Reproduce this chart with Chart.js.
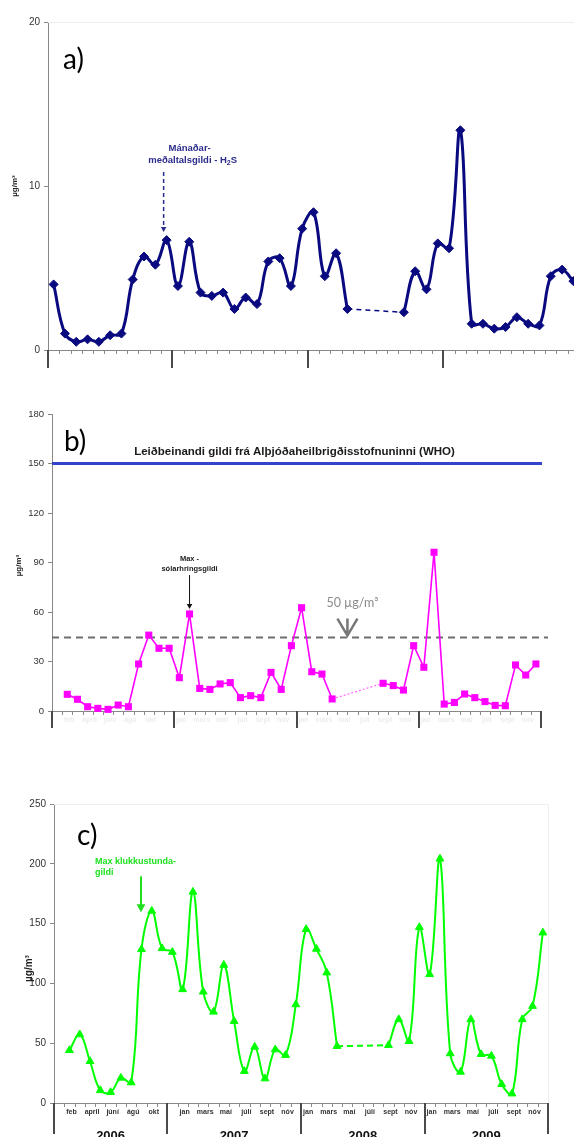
<!DOCTYPE html>
<html>
<head>
<meta charset="utf-8">
<script src="https://cdn.jsdelivr.net/npm/chart.js@4.4.1/dist/chart.umd.min.js"></script>
<style>
  html, body { margin: 0; padding: 0; overflow: hidden; background: #fff; }
  canvas { position: absolute; left: 0; }
  #chartA { top: 0; }
  #chartB { top: 380px; }
  #chartC { top: 760px; }
</style>
</head>
<body>
<canvas id="chartA" width="600" height="380"></canvas>
<canvas id="chartB" width="574" height="360"></canvas>
<canvas id="chartC" width="574" height="400"></canvas>
<script>
var years = ['2006', '2007', '2008', '2009'];
var months = ['jan', 'feb', 'mars', 'apríl', 'maí', 'júní', 'júlí', 'ágú', 'sept', 'okt', 'nóv', 'des'];

// month labels shown under the bottom chart (every other month, restarts each year)
var monthTicks = [
  '', 'feb', '', 'april', '', 'júní', '', 'ágú', '', 'okt', '', '',
  'jan', '', 'mars', '', 'maí', '', 'júlí', '', 'sept', '', 'nóv', '',
  'jan', '', 'mars', '', 'maí', '', 'júlí', '', 'sept', '', 'nóv', '',
  'jan', '', 'mars', '', 'maí', '', 'júlí', '', 'sept', '', 'nóv', ''
];

// a) monthly mean H2S, µg/m3
var monthlyMean = [null,
  4.0, 1.0, 0.5, 0.65, 0.5, 0.9, 1.0, 4.3, 5.7, 5.2, 6.7,
  3.9, 6.6, 3.5, 3.3, 3.5, 2.5, 3.2, 2.8, 5.4, 5.6, 3.9, 7.4,
  8.4, 4.5, 5.9, 2.5, null, null, null, null, 2.3, 4.8, 3.7, 6.5,
  6.2, 13.4, 1.6, 1.6, 1.3, 1.4, 2.0, 1.6, 1.5, 4.5, 4.9, 4.2];

// b) max daily value
var dailyMax = [null,
  10.1, 7.1, 2.6, 1.6, 1.0, 3.6, 2.6, 28.5, 46, 38, 38,
  20.2, 58.8, 13.7, 13.1, 16.4, 17.2, 8.1, 9.3, 8.1, 23.4, 13.1, 39.6,
  62.6, 23.8, 22.4, 7.3, null, null, null, null, 16.8, 15.4, 12.7, 39.6,
  26.5, 96.2, 4.2, 5.2, 10.3, 8.1, 5.7, 3.4, 3.2, 27.9, 21.8, 28.5];

// c) max hourly value
var hourlyMax = [null,
  44.1, 57.3, 34.9, 10.6, 9.0, 21, 17.1, 128.5, 160.6, 129.3, 126.2,
  95, 176.5, 93, 76.2, 115.4, 68.4, 26.6, 46.9, 20.4, 44.7, 40, 82.4,
  145.3, 128.8, 109, 47.5, null, null, null, null, 48.3, 69.9, 51.7, 147,
  107.6, 204.2, 41.4, 26, 69.9, 40.8, 39.4, 15.7, 7.8, 69.9, 81, 142.4];

var whoGuide = 150;
var limitLine = 44.5;

// category boundaries where the long year ticks sit
var sepsA = [1, 12, 24, 36, 48];
var sepsB = [0, 12, 24, 36, 48];
var sepsC = [0, 11, 24, 36, 48];

var categories = [];
years.forEach(function (y) { months.forEach(function (m) { categories.push(m + ' ' + y); }); });

var FONT = '"Liberation Sans", Arial, sans-serif';

function notNull(v) { return v !== null; }

// keeps only the two values on each side of a missing stretch, for the dashed link
function bridge(values) {
  return values.map(function (v, i) {
    if (v === null) return null;
    var before = i > 0 && values[i - 1] === null && values.slice(0, i - 1).some(notNull);
    var after = i < values.length - 1 && values[i + 1] === null && values.slice(i + 2).some(notNull);
    return before || after ? v : null;
  });
}

function yAxis(max, step, width, size) {
  return {
    min: 0, max: max,
    ticks: { stepSize: step, color: '#333', padding: 4, font: { family: FONT, size: size } },
    grid: { drawOnChartArea: false, drawTicks: true, tickLength: 4, color: '#888' },
    border: { color: '#888' },
    afterFit: function (s) { s.width = width; }
  };
}

function xAxis(min, height, showLabels, color) {
  return {
    type: 'category', offset: true, min: min,
    grid: { display: false, drawTicks: false },
    border: { color: '#888' },
    ticks: {
      display: showLabels, autoSkip: false, maxRotation: 0, minRotation: 0, padding: 5, labelOffset: 2,
      color: color, font: { family: FONT, size: 7, weight: 'bold' },
      callback: function (v) { return monthTicks[v]; }
    },
    afterFit: function (s) { s.height = height; }
  };
}

function linkSet(values, color, width, dash) {
  return {
    data: bridge(values),
    borderColor: color,
    borderWidth: width,
    borderDash: dash,
    tension: 0,
    spanGaps: true,
    pointRadius: 0,
    clip: false
  };
}

function bx(xs, k) { return xs.getPixelForValue(k - 0.5); }

function drawAxisTicks(chart, seps, sepLen) {
  var ctx = chart.ctx, xs = chart.scales.x, b = chart.chartArea.bottom;
  ctx.save();
  ctx.strokeStyle = '#8a8a8a';
  ctx.lineWidth = 1;
  ctx.beginPath();
  for (var k = xs.min; k <= xs.max + 1; k++) {
    var px = Math.round(bx(xs, k)) + 0.5;
    ctx.moveTo(px, b);
    ctx.lineTo(px, b + 4);
  }
  ctx.stroke();
  ctx.strokeStyle = '#4a4a4a';
  ctx.lineWidth = 2;
  ctx.beginPath();
  seps.forEach(function (k) {
    if (k < xs.min || k > xs.max + 1) return;
    var px = Math.round(bx(xs, k));
    ctx.moveTo(px, b);
    ctx.lineTo(px, b + sepLen);
  });
  ctx.stroke();
  ctx.restore();
}

function faintFrame(chart) {
  var ctx = chart.ctx, a = chart.chartArea;
  ctx.save();
  ctx.strokeStyle = '#eeeeee';
  ctx.lineWidth = 1;
  ctx.beginPath();
  ctx.moveTo(a.left, Math.round(a.top) + 0.5);
  ctx.lineTo(Math.round(a.right) + 0.5, Math.round(a.top) + 0.5);
  ctx.lineTo(Math.round(a.right) + 0.5, a.bottom);
  ctx.stroke();
  ctx.restore();
}

function yTitle(ctx, x, y, size) {
  ctx.save();
  ctx.translate(x, y);
  ctx.rotate(-Math.PI / 2);
  ctx.fillStyle = '#222';
  ctx.font = 'bold ' + size + 'px ' + FONT;
  ctx.textAlign = 'center';
  ctx.textBaseline = 'middle';
  ctx.fillText('µg/m³', 0, 0);
  ctx.restore();
}

function panelLetter(ctx, txt, x, y) {
  ctx.save();
  ctx.fillStyle = '#000';
  ctx.font = '28px Lato, "Open Sans", sans-serif';
  ctx.textAlign = 'left';
  ctx.textBaseline = 'alphabetic';
  ctx.fillText(txt, x, y);
  ctx.restore();
}

function arrowDown(ctx, x, y0, y1, color, width, dash, head) {
  ctx.save();
  ctx.strokeStyle = color;
  ctx.fillStyle = color;
  ctx.lineWidth = width;
  ctx.setLineDash(dash);
  ctx.beginPath();
  ctx.moveTo(x, y0);
  ctx.lineTo(x, y1 - head + 1);
  ctx.stroke();
  ctx.setLineDash([]);
  ctx.beginPath();
  ctx.moveTo(x - head * 0.55, y1 - head);
  ctx.lineTo(x + head * 0.55, y1 - head);
  ctx.lineTo(x, y1);
  ctx.closePath();
  ctx.fill();
  ctx.restore();
}

// ---------- a) ----------
new Chart(document.getElementById('chartA'), {
  type: 'line',
  data: {
    labels: categories,
    datasets: [{
      data: monthlyMean,
      borderColor: '#0a0a80',
      backgroundColor: '#0a0a80',
      borderWidth: 3,
      tension: 0.4,
      spanGaps: false,
      clip: false,
      pointStyle: 'rectRot',
      pointRadius: 4.5,
      pointBorderWidth: 1
    }, linkSet(monthlyMean, '#0a0a80', 1.5, [5, 4])]
  },
  options: {
    responsive: false, animation: false, devicePixelRatio: 1,
    layout: { padding: { top: 22, right: 21, left: 0, bottom: 0 } },
    plugins: { legend: { display: false }, tooltip: { enabled: false } },
    scales: { x: xAxis(1, 30, false, '#fff'), y: yAxis(20, 10, 48, 10) }
  },
  plugins: [{
    id: 'decorA',
    beforeDatasetsDraw: function (chart) { faintFrame(chart); },
    afterDraw: function (chart) {
      var ctx = chart.ctx, xs = chart.scales.x, ys = chart.scales.y;
      drawAxisTicks(chart, sepsA, 18);
      yTitle(ctx, 15, (chart.chartArea.top + chart.chartArea.bottom) / 2, 8);
      panelLetter(ctx, 'a)', 63, 69);

      var px = xs.getPixelForValue(11) - 3, py = ys.getPixelForValue(monthlyMean[11]);
      var col = '#2b2b8c';
      arrowDown(ctx, px, py - 68, py - 8, col, 1.5, [4, 3], 5);
      var cx = px + 29;
      ctx.save();
      ctx.fillStyle = col;
      ctx.textBaseline = 'alphabetic';
      ctx.font = 'bold 9.5px ' + FONT;
      ctx.textAlign = 'center';
      ctx.fillText('Mánaðar-', cx - 3, py - 89);
      var main = 'meðaltalsgildi - H', tail = 'S';
      var w1 = ctx.measureText(main).width, w3 = ctx.measureText(tail).width;
      ctx.font = 'bold 7px ' + FONT;
      var w2 = ctx.measureText('2').width;
      var x0 = cx - (w1 + w2 + w3) / 2, yb = py - 77;
      ctx.textAlign = 'left';
      ctx.font = 'bold 9.5px ' + FONT;
      ctx.fillText(main, x0, yb);
      ctx.fillText(tail, x0 + w1 + w2, yb);
      ctx.font = 'bold 7px ' + FONT;
      ctx.fillText('2', x0 + w1, yb + 2);
      ctx.restore();
    }
  }]
});

// ---------- b) ----------
new Chart(document.getElementById('chartB'), {
  type: 'line',
  data: {
    labels: categories,
    datasets: [{
      data: dailyMax,
      borderColor: '#ff00ff',
      backgroundColor: '#ff00ff',
      borderWidth: 1.6,
      tension: 0,
      spanGaps: false,
      clip: false,
      pointStyle: 'rect',
      pointRadius: 5,
      pointBorderWidth: 0
    }, linkSet(dailyMax, '#ff66ff', 1.2, [2, 2])]
  },
  options: {
    responsive: false, animation: false, devicePixelRatio: 1,
    layout: { padding: { top: 34, right: 33, left: 0, bottom: 0 } },
    plugins: { legend: { display: false }, tooltip: { enabled: false } },
    scales: { x: xAxis(0, 29, true, '#ececec'), y: yAxis(180, 30, 52, 9.5) }
  },
  plugins: [{
    id: 'decorB',
    beforeDatasetsDraw: function (chart) {
      var ctx = chart.ctx, a = chart.chartArea, ys = chart.scales.y;
      var yw = ys.getPixelForValue(whoGuide);
      ctx.save();
      ctx.strokeStyle = '#3344cc';
      ctx.lineWidth = 3;
      ctx.beginPath();
      ctx.moveTo(a.left, yw);
      ctx.lineTo(a.right + 1, yw);
      ctx.stroke();
      var yl = ys.getPixelForValue(limitLine);
      ctx.strokeStyle = '#6e6e6e';
      ctx.lineWidth = 2;
      ctx.setLineDash([7, 5]);
      ctx.beginPath();
      ctx.moveTo(a.left, yl);
      ctx.lineTo(a.right + 7, yl);
      ctx.stroke();
      ctx.restore();
    },
    afterDraw: function (chart) {
      var ctx = chart.ctx, a = chart.chartArea, xs = chart.scales.x, ys = chart.scales.y;
      drawAxisTicks(chart, sepsB, 17);
      yTitle(ctx, 19, (a.top + a.bottom) / 2 + 3, 8);
      panelLetter(ctx, 'b)', 64, 71);

      ctx.save();
      ctx.fillStyle = '#1a1a1a';
      ctx.font = 'bold 11.5px ' + FONT;
      ctx.textAlign = 'center';
      ctx.fillText('Leiðbeinandi gildi frá Alþjóðaheilbrigðisstofnuninni (WHO)', (a.left + a.right) / 2 - 2, ys.getPixelForValue(whoGuide) - 9);

      // 50 µg/m3 label with chevron
      var yl = ys.getPixelForValue(limitLine), cx = bx(xs, 29);
      ctx.fillStyle = '#8a8a8a';
      ctx.font = '12.5px Lato, "Open Sans", sans-serif';
      ctx.textAlign = 'center';
      ctx.fillText('50 µg/m³', cx + 5, yl - 31);
      ctx.strokeStyle = '#777';
      ctx.lineWidth = 2.5;
      ctx.beginPath();
      ctx.moveTo(cx - 10, yl - 19);
      ctx.lineTo(cx, yl - 2);
      ctx.lineTo(cx + 10, yl - 19);
      ctx.moveTo(cx, yl - 19);
      ctx.lineTo(cx, yl - 2);
      ctx.stroke();
      ctx.restore();

      var px = xs.getPixelForValue(13), py = ys.getPixelForValue(dailyMax[13]);
      arrowDown(ctx, px, py - 39, py - 5, '#111', 1, [], 5);
      ctx.save();
      ctx.fillStyle = '#222';
      ctx.font = 'bold 7.5px ' + FONT;
      ctx.textAlign = 'center';
      ctx.fillText('Max -', px, py - 53);
      ctx.fillText('sólarhringsgildi', px, py - 43);
      ctx.restore();
    }
  }]
});

// ---------- c) ----------
new Chart(document.getElementById('chartC'), {
  type: 'line',
  data: {
    labels: categories,
    datasets: [{
      data: hourlyMax,
      borderColor: '#00ff00',
      backgroundColor: '#00ff00',
      borderWidth: 2,
      tension: 0.4,
      spanGaps: false,
      clip: false,
      pointStyle: 'triangle',
      pointRadius: 4.5,
      pointBorderWidth: 1
    }, linkSet(hourlyMax, '#00ff00', 2, [6, 4])]
  },
  options: {
    responsive: false, animation: false, devicePixelRatio: 1,
    layout: { padding: { top: 44, right: 26, left: 0, bottom: 0 } },
    plugins: { legend: { display: false }, tooltip: { enabled: false } },
    scales: { x: xAxis(0, 57, true, '#333'), y: yAxis(250, 50, 54, 10) }
  },
  plugins: [{
    id: 'decorC',
    beforeDatasetsDraw: function (chart) { faintFrame(chart); },
    afterDraw: function (chart) {
      var ctx = chart.ctx, a = chart.chartArea, xs = chart.scales.x, ys = chart.scales.y;
      drawAxisTicks(chart, sepsC, 31);
      yTitle(ctx, 29, (a.top + a.bottom) / 2 + 15, 10);
      panelLetter(ctx, 'c)', 77, 85);

      // year labels under the month labels
      ctx.save();
      ctx.fillStyle = '#111';
      ctx.font = 'bold 13px ' + FONT;
      ctx.textAlign = 'center';
      for (var i = 0; i < years.length; i++) {
        var x0 = bx(xs, sepsC[i]), x1 = bx(xs, sepsC[i + 1]);
        ctx.fillText(years[i], (x0 + x1) / 2, a.bottom + 37);
      }
      ctx.restore();

      var px = xs.getPixelForValue(8) - 0.5, py = ys.getPixelForValue(hourlyMax[8]);
      var col = '#1ee01e';
      arrowDown(ctx, px, py - 73, py - 37, col, 2, [], 8);
      ctx.save();
      ctx.fillStyle = col;
      ctx.font = 'bold 9px ' + FONT;
      ctx.textAlign = 'left';
      ctx.fillText('Max klukkustunda-', px - 46, py - 85);
      ctx.fillText('gildi', px - 46, py - 74);
      ctx.restore();
    }
  }]
});
</script>
</body>
</html>
